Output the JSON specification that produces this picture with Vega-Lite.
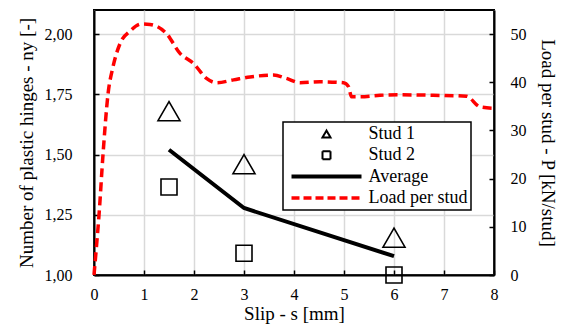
{
  "$schema": "https://vega.github.io/schema/vega-lite/v6.json",
  "width": 400,
  "height": 265,
  "autosize": {"type": "none"},
  "padding": {"left": 94, "top": 10, "right": 74, "bottom": 54},
  "background": "white",
  "config": {
    "view": {"stroke": "black", "strokeWidth": 2},
    "font": "Liberation Serif",
    "axis": {
      "labelFont": "Liberation Serif",
      "titleFont": "Liberation Serif",
      "labelFontSize": 16,
      "titleFontSize": 19,
      "titleFontWeight": "normal",
      "labelColor": "black",
      "titleColor": "black",
      "domainColor": "black",
      "domainWidth": 2,
      "tickColor": "black",
      "tickWidth": 1.5,
      "tickSize": -5,
      "labelFlush": false,
      "gridColor": "#d9d9d9",
      "gridWidth": 1.5
    }
  },
  "datasets": {
    "studs": [
      {"slip": 1.5, "ny": 1.68, "series": "Stud 1"},
      {"slip": 3, "ny": 1.46, "series": "Stud 1"},
      {"slip": 6, "ny": 1.155, "series": "Stud 1"},
      {"slip": 1.5, "ny": 1.365, "series": "Stud 2"},
      {"slip": 3, "ny": 1.09, "series": "Stud 2"},
      {"slip": 6, "ny": 1.0, "series": "Stud 2"}
    ],
    "avg": [
      {"slip": 1.5, "ny": 1.52, "series": "Average"},
      {"slip": 3, "ny": 1.278, "series": "Average"},
      {"slip": 6, "ny": 1.078, "series": "Average"}
    ],
    "load": [
      {"slip": 0, "P": 0, "series": "Load per stud"},
      {"slip": 0.05, "P": 6, "series": "Load per stud"},
      {"slip": 0.1, "P": 12.4, "series": "Load per stud"},
      {"slip": 0.18, "P": 25, "series": "Load per stud"},
      {"slip": 0.28, "P": 37.5, "series": "Load per stud"},
      {"slip": 0.38, "P": 43.2, "series": "Load per stud"},
      {"slip": 0.52, "P": 48, "series": "Load per stud"},
      {"slip": 0.72, "P": 50.6, "series": "Load per stud"},
      {"slip": 0.95, "P": 52.1, "series": "Load per stud"},
      {"slip": 1.12, "P": 52, "series": "Load per stud"},
      {"slip": 1.45, "P": 50.1, "series": "Load per stud"},
      {"slip": 1.72, "P": 46, "series": "Load per stud"},
      {"slip": 1.99, "P": 43.9, "series": "Load per stud"},
      {"slip": 2.25, "P": 40.8, "series": "Load per stud"},
      {"slip": 2.45, "P": 39.9, "series": "Load per stud"},
      {"slip": 2.79, "P": 40.5, "series": "Load per stud"},
      {"slip": 3.12, "P": 41.1, "series": "Load per stud"},
      {"slip": 3.59, "P": 41.5, "series": "Load per stud"},
      {"slip": 3.85, "P": 40.8, "series": "Load per stud"},
      {"slip": 4.12, "P": 39.9, "series": "Load per stud"},
      {"slip": 4.52, "P": 40.1, "series": "Load per stud"},
      {"slip": 4.99, "P": 39.9, "series": "Load per stud"},
      {"slip": 5.09, "P": 39.1, "series": "Load per stud"},
      {"slip": 5.15, "P": 37.0, "series": "Load per stud"},
      {"slip": 5.32, "P": 37.0, "series": "Load per stud"},
      {"slip": 5.72, "P": 37.3, "series": "Load per stud"},
      {"slip": 6.12, "P": 37.4, "series": "Load per stud"},
      {"slip": 6.78, "P": 37.3, "series": "Load per stud"},
      {"slip": 7.45, "P": 37.1, "series": "Load per stud"},
      {"slip": 7.72, "P": 34.9, "series": "Load per stud"},
      {"slip": 8.0, "P": 34.6, "series": "Load per stud"}
    ]
  },
  "encoding": {
    "x": {
      "field": "slip",
      "type": "quantitative",
      "scale": {"domain": [0, 8], "nice": false},
      "axis": {"values": [0, 1, 2, 3, 4, 5, 6, 7, 8], "title": "Slip - s [mm]", "labelPadding": 16, "titlePadding": 2, "grid": true}
    },
    "color": {
      "field": "series",
      "type": "nominal",
      "scale": {"domain": ["Stud 1", "Stud 2", "Average", "Load per stud"], "range": ["black", "black", "black", "#ff0000"]},
      "legend": {
        "orient": "none",
        "legendX": 189,
        "legendY": 112,
        "direction": "vertical",
        "title": null,
        "fillColor": "white",
        "strokeColor": "black",
        "padding": 3,
        "symbolSize": 324,
        "symbolType": "stroke",
        "rowPadding": 3.3,
        "symbolOffset": 31.5,
        "labelOffset": 33,
        "labelFont": "Liberation Serif",
        "labelFontSize": 18,
        "labelColor": "black",
        "encode": {
          "legend": {"update": {"strokeWidth": {"value": 1.5}}},
          "symbols": {
            "update": {
              "shape": {"signal": "datum.value === 'Stud 1' ? 'triangle-up' : datum.value === 'Stud 2' ? 'square' : 'stroke'"},
              "size": {"signal": "datum.value === 'Stud 1' || datum.value === 'Stud 2' ? 64 : 4900"},
              "strokeWidth": {"signal": "datum.value === 'Stud 1' || datum.value === 'Stud 2' ? 2 : (datum.value === 'Average' ? 4 : 3.5)"},
              "strokeDash": {"signal": "datum.value === 'Load per stud' ? [8, 4] : [1, 0]"},
              "fill": {"value": "transparent"},
              "opacity": {"value": 1}
            }
          }
        }
      }
    }
  },
  "layer": [
    {
      "encoding": {
        "y": {
          "field": "ny",
          "type": "quantitative",
          "scale": {"domain": [1, 2.1], "nice": false, "zero": false},
          "axis": {
            "orient": "left",
            "values": [1, 1.25, 1.5, 1.75, 2],
            "labelExpr": "replace(format(datum.value, '.2f'), '.', ',')",
            "title": "Number of plastic hinges - ny [-]",
            "labelPadding": 27,
            "titlePadding": 8,
            "grid": true
          }
        }
      },
      "layer": [
        {
          "data": {"name": "studs"},
          "transform": [{"filter": "datum.series === 'Stud 1'"}],
          "mark": {"type": "point", "shape": "triangle-up", "size": 484, "filled": false, "strokeWidth": 1.6, "opacity": 1}
        },
        {
          "data": {"name": "studs"},
          "transform": [{"filter": "datum.series === 'Stud 2'"}],
          "mark": {"type": "point", "shape": "square", "size": 256, "filled": false, "strokeWidth": 1.6, "opacity": 1}
        },
        {
          "data": {"name": "avg"},
          "mark": {"type": "line", "strokeWidth": 4}
        }
      ]
    },
    {
      "data": {"name": "load"},
      "mark": {"type": "line", "strokeWidth": 3.5, "strokeDash": [9, 5], "interpolate": "monotone"},
      "encoding": {
        "y": {
          "field": "P",
          "type": "quantitative",
          "scale": {"domain": [0, 55], "nice": false},
          "axis": {
            "orient": "right",
            "values": [0, 10, 20, 30, 40, 50],
            "title": "Load per stud - P [kN/stud]",
            "labelPadding": 21,
            "titlePadding": 11,
            "grid": false
          }
        }
      }
    }
  ],
  "resolve": {"scale": {"y": "independent"}}
}
